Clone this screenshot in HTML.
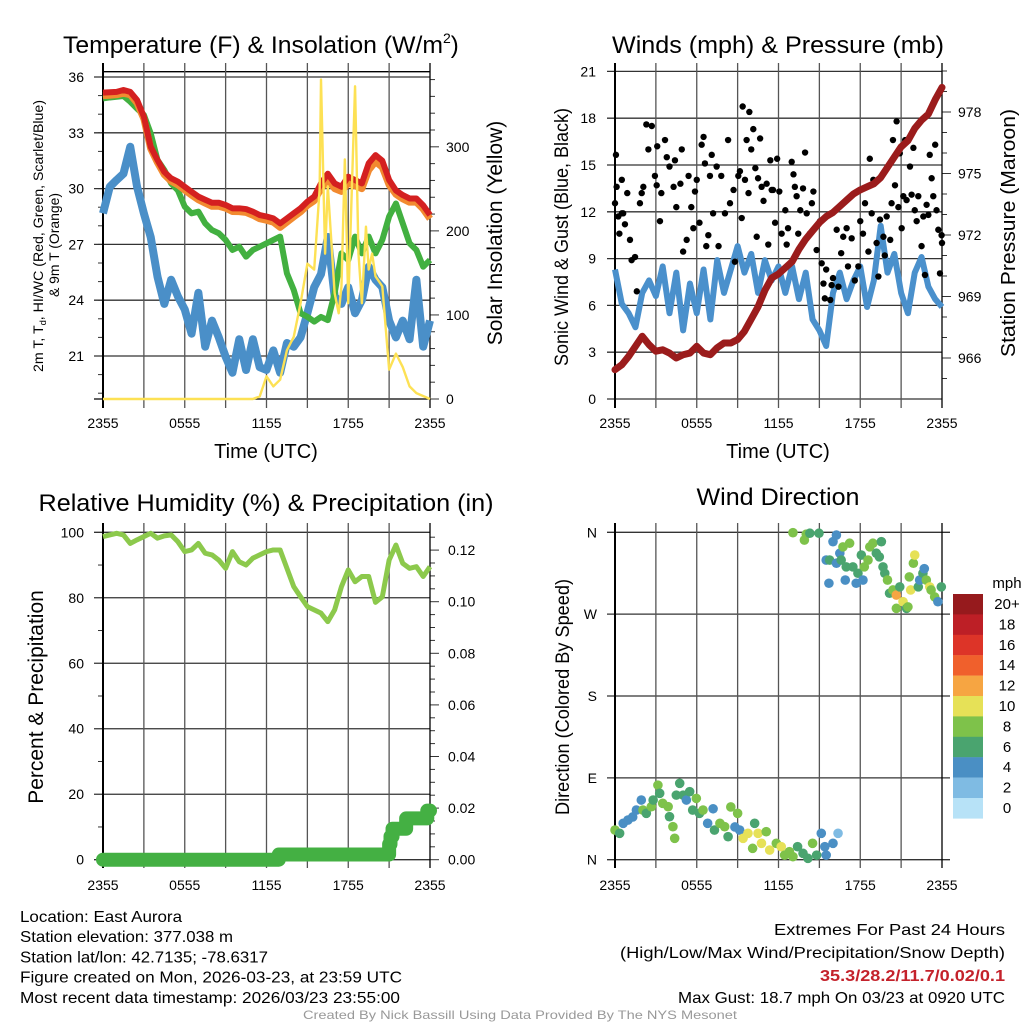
<!DOCTYPE html>
<html><head><meta charset="utf-8"><style>
html,body{margin:0;padding:0;background:#fff}
svg{display:block;font-family:"Liberation Sans",sans-serif}
</style></head><body>
<svg id="root" width="1024" height="1024" viewBox="0 0 1024 1024" xmlns="http://www.w3.org/2000/svg">
<rect x="0" y="0" width="1024" height="1024" fill="#fff"/>
</svg>
<script>
// ---------- data ----------
const hours = [0,0.5,1,1.5,2,2.5,3,3.5,4,4.5,5,5.5,6,6.5,7,7.5,8,8.5,9,9.5,10,10.5,11,11.5,12,12.5,13,13.5,14,14.5,15,15.5,16,16.5,17,17.5,18,18.5,19,19.5,20,20.5,21,21.5,22,22.5,23,23.5,24];
const tempRed = [35.16,35.18,35.2,35.3,35.2,34.76,33.87,32.25,31.54,30.9,30.55,30.37,30.1,29.83,29.57,29.4,29.24,29.24,29.12,28.94,28.94,28.9,28.76,28.58,28.5,28.4,28.13,28.4,28.67,28.94,29.3,29.57,30.28,30.8,30.28,30.1,30.64,30.46,30.28,31.36,31.8,31.5,30.46,29.9,29.65,29.47,29.47,29.1,28.58];
const temp9mOrange = [35.0,35.02,35.05,35.12,35.05,34.6,33.75,32.15,31.4,30.75,30.4,30.2,29.92,29.65,29.4,29.22,29.05,29.05,28.95,28.77,28.76,28.72,28.57,28.38,28.3,28.2,27.92,28.2,28.48,28.75,29.1,29.35,30.0,30.45,30.0,29.85,30.3,30.15,30.0,31.0,31.45,31.15,30.2,29.7,29.45,29.27,29.27,28.9,28.38];
const windChillGreen = [34.85,34.9,34.94,34.98,34.67,34.3,33.96,32.97,31.54,31.0,30.28,29.9,29.03,28.67,28.76,28.13,27.77,27.6,27.24,26.7,26.88,26.34,26.7,26.88,27.06,27.24,27.42,25.44,24.55,23.3,23.11,22.85,23.1,22.93,24.37,26.52,26.16,27.42,26.52,27.42,26.52,27.24,28.5,29.2,28.13,27.06,26.7,25.8,26.16];
const dewpointBlue = [28.67,30.1,30.46,30.8,32.25,30.1,28.67,27.4,25.26,23.8,25.1,24.2,23.5,22.2,24.4,21.5,22.9,22.0,20.96,20.1,21.9,20.25,21.9,20.4,20.25,21.3,20.1,21.7,21.5,22.0,23.3,24.7,25.4,27.4,24.2,23.8,24.7,23.3,24.0,25.8,25.1,24.7,22.9,22.0,22.9,21.9,25.1,21.5,22.9];
const solarHours = [0,11,11.5,12,12.5,13,13.5,14,14.5,15,15.5,15.9,16,16.3,16.5,17,17.3,17.5,17.75,18,18.5,18.75,19,19.3,19.5,19.75,20,20.5,21,21.5,22,22.5,23,24];
const solarW = [0,0,3,27,15,23,58,74,114,161,154,250,380,173,253,126,102,134,285,114,372,173,114,205,154,173,146,134,35,54,38,15,7,0];
const windBlue = [8.3,6.1,5.5,4.6,6.8,7.6,6.6,8.5,5.5,8.1,4.4,7.4,5.5,8.3,5.1,8.9,6.8,8.3,9.8,8.1,9.3,6.8,8.9,7.6,8.5,6.8,8.5,6.4,8.1,5.1,4.4,3.4,6.8,8.1,6.4,7.6,8.5,5.9,7.6,11.1,8.1,9.3,6.8,5.5,8.1,9.1,7.2,6.4,5.9];
const pressureMb = [965.43,965.67,966.08,966.57,967.06,966.65,966.33,966.4,966.24,966.0,966.16,966.24,966.57,966.24,966.16,966.5,966.73,966.73,966.9,967.3,967.9,968.5,969.3,969.9,970.1,970.4,970.7,971.3,971.8,972.2,972.6,972.9,973.1,973.4,973.7,974.0,974.2,974.35,974.5,974.8,975.3,975.8,976.3,976.6,977.2,977.6,977.9,978.6,979.2];
const gustHours = [0,0.07,0.12,0.24,0.32,0.5,0.6,0.73,0.9,0.5,1.1,1.22,1.47,1.6,1.83,1.96,2.08,2.3,2.45,2.7,2.93,3.06,3.1,3.3,3.4,3.67,3.8,4.0,4.3,4.4,4.5,4.8,4.9,5.0,5.26,5.4,5.6,5.75,5.87,6.0,6.2,6.36,6.5,6.6,6.7,6.85,6.97,7.1,7.2,7.46,7.6,7.8,8.07,8.3,8.44,8.7,8.8,9.05,9.17,9.3,9.37,9.54,9.66,9.8,9.86,10.0,10.15,10.3,10.4,10.5,10.65,10.76,10.9,11.13,11.25,11.4,11.5,11.6,11.75,11.9,12.06,12.23,12.5,12.6,12.7,12.97,13.1,13.2,13.33,13.45,13.6,13.8,13.95,14.07,14.3,14.45,14.56,14.8,15.05,15.17,15.3,15.4,15.5,15.8,15.9,16.0,16.27,16.4,16.6,16.75,17.0,17.1,17.37,17.6,17.86,18.0,18.2,18.35,18.6,18.7,18.84,18.96,19.2,19.33,19.45,19.7,19.8,19.94,20.2,20.3,20.4,20.55,20.67,20.8,20.9,21.04,21.16,21.3,21.4,21.65,21.77,21.9,22.0,22.14,22.26,22.5,22.63,22.75,22.87,23.0,23.1,23.24,23.36,23.5,23.6,23.73,23.85,23.97,24.0];
const gustMph = [12.55,15.65,13.6,11.7,10.6,11.9,11.9,11.2,13.2,14.05,10.2,8.9,9.1,6.9,12.55,13.2,13.6,17.6,16.0,17.5,14.3,13.7,16.2,11.4,13.2,16.6,15.5,14.9,13.6,15.3,12.3,13.8,16.0,9.45,10.2,14.3,12.3,10.95,13.3,14.05,11.3,16.3,16.8,15.1,9.8,10.5,14.3,15.65,11.9,14.9,9.8,14.3,11.9,16.6,12.55,13.4,8.8,14.3,14.6,11.6,18.75,14.05,16.6,13.2,18.4,16.0,17.3,14.8,10.4,14.15,16.7,13.6,12.7,13.8,9.9,15.3,13.4,13.4,11.3,15.4,13.3,10.6,12.1,9.9,10.95,15.2,14.4,13.6,13.0,10.6,12.1,13.5,15.8,11.9,10.6,12.55,13.3,9.55,11.4,8.7,7.4,6.45,8.3,6.35,7.3,7.75,10.85,7.2,9.35,10.4,10.95,8.5,10.3,7.6,8.5,11.4,10.6,12.55,9.45,15.4,11.9,14.05,10.0,7.85,11.5,10.4,9.2,11.7,10.2,12.55,16.6,13.7,17.8,12.3,15.75,10.95,13.0,16.6,12.75,14.9,13.1,16.1,12.1,11.4,13.0,9.8,11.7,7.95,12.45,11.8,15.65,14.15,13.0,16.3,12.1,10.85,8.05,10.5,10.0];
const rhPct = [98.7,99.2,99.7,99.2,96.6,97.7,98.7,99.7,98.2,98.9,99.2,97.1,94.1,94.6,96.6,93.6,93.1,91.5,89.0,94.1,91.0,90.0,92.1,93.1,94.1,94.6,94.6,89.0,83.4,80.3,77.3,76.3,75.3,72.7,76.3,83.4,88.5,84.9,86.5,86.5,78.6,80.3,91.5,96.1,90.5,89.0,89.5,86.5,89.5];
const precipHours = [0,12.75,12.9,20.8,21.0,21.1,21.25,22.0,22.25,23.6,23.8,24];
const precipIn = [0,0,0.002,0.002,0.006,0.009,0.012,0.012,0.016,0.016,0.019,0.019];
const dirHours = [0,0.34,0.6,0.95,1.3,1.57,1.93,2.05,2.3,2.67,2.8,3.15,3.28,3.5,3.9,4.0,4.25,4.38,4.5,4.75,5.0,5.24,5.48,5.7,5.97,6.2,6.46,6.8,7.2,7.3,7.7,8.05,8.3,8.5,8.8,9.0,9.15,9.4,9.76,10.1,10.25,10.5,10.75,11.1,11.35,11.84,12.2,12.45,12.8,13.06,13.4,13.8,14.16,14.5,14.8,15.14,15.4,15.5,16.0,16.37,13.06,13.9,14.04,14.3,14.97,15.5,15.75,15.7,16.0,16.25,16.25,16.5,16.6,16.73,16.9,16.97,17.22,17.46,17.7,17.83,18.08,18.2,18.3,18.57,18.7,18.93,19.18,19.4,19.55,19.67,19.8,20.0,20.15,20.4,20.65,20.65,20.9,21.14,21.4,21.5,21.6,21.7,21.9,22.0,22.26,22.36,22.6,22.7,22.85,23.1,23.2,23.46,23.7,23.95];
const dirDeg = [32.6,29,40,43.6,47,54.6,65.6,54.6,51,58.3,65.6,82,73,62,58.3,47.3,36.3,23.5,71,84,71,65.6,74.8,54.6,67.4,51,54.6,40,56,32.6,40,36.3,25.3,58,36,51,32.6,23.5,29,12.5,40,29,18,30.8,10.6,18,14.3,5,8.8,3.3,14.3,7,1.5,18,5,29,14.3,5,18,29,359.6,351.5,358,359,359,329.5,329.5,304,349.7,357,326,337,329.5,344,307.5,322,348,322,304,315,335,307.5,322,329.5,344,348,337,333,349.7,322,315,307.5,293,296.6,291,276.4,300,283.7,276.4,278,311,296.6,326,335,300,307.5,315,320,307.5,300,296.6,289,283.7,300];
const dirSpeed = [9,7,5,5,5,5,5,9,7,9,7,9,7,9,9,7,9,9,7,7,7,5,7,7,9,7,9,5,5,7,9,9,7,9,5,9,5,11,11,9,7,11,11,9,11,9,11,9,9,9,7,7,7,9,7,5,5,5,5,3,9,9,9,7,7,5,7,5,5,5,5,5,7,9,5,7,9,7,5,7,7,5,9,9,9,9,7,7,7,7,7,9,7,9,13,9,7,11,7,9,9,11,9,11,7,5,7,5,9,11,9,9,5,7];
const tempTicks = [36,33,30,27,24,21];
const solarTicks = [0,100,200,300];
const windTicks = [0,3,6,9,12,15,18,21];
const pressTicks = [966,969,972,975,978];
const rhTicks = [0,20,40,60,80,100];
const precipTicks = [0,0.02,0.04,0.06,0.08,0.10,0.12];
const precipTickLabels = ["0.00","0.02","0.04","0.06","0.08","0.10","0.12"];
const dirTicks = [0,90,180,270,360];
const dirTickLabels = ["N","E","S","W","N"];
const timeTickHours = [0,6,12,18,24];
const timeTickLabels = ["2355","0555","1155","1755","2355"];
const speedBins = [20,18,16,14,12,10,8,6,4,2,0];
const speedBinLabels = ["20+","18","16","14","12","10","8","6","4","2","0"];
const speedColors = {0:"#b7e2f7",2:"#7fbbe3",4:"#4a8fc4",6:"#4aa46f",8:"#7ec24a",10:"#e6e157",12:"#f6a542",14:"#f0602c",16:"#dd3428",18:"#bd1f26",20:"#961a1d"};

// ---------- helpers ----------
const NS="http://www.w3.org/2000/svg";
const root=document.getElementById("root");
function add(p,tag,a){const e=document.createElementNS(NS,tag);for(const k in a)e.setAttribute(k,a[k]);p.appendChild(e);return e;}
function text(p,x,y,s,a){const e=add(p,"text",Object.assign({x:x,y:y},a||{}));e.textContent=s;return e;}
function pathD(xs,ys,fx,fy){let d="";for(let i=0;i<xs.length;i++){d+=(i?"L":"M")+fx(xs[i]).toFixed(2)+","+fy(ys[i]).toFixed(2);}return d;}
function stepD(xs,ys,fx,fy){let d="M"+fx(xs[0])+","+fy(ys[0]);for(let i=1;i<xs.length;i++){d+="L"+fx(xs[i])+","+fy(ys[i-1])+"L"+fx(xs[i])+","+fy(ys[i]);}return d;}

const PX_H=13.625;
const x1=h=>103+h*PX_H;
const x2=h=>615+h*PX_H;
const yT=v=>77+(36-v)*18.6;
const yS=w=>399-w*0.8406;
const yW=v=>399-v*15.6;
const yP=p=>112+(978-p)*20.5;
const yR=r=>859.7-r*3.274;
const yPr=p=>859.7-p*2580;
const yD=d=>859.7-d*0.9094;

function vgrid(g,fx,top,bot){
  for(let h=0;h<=24;h+=3){
    const l=add(g,"line",{x1:fx(h),x2:fx(h),y1:top,y2:bot,stroke:(h===0||h===24)?"#000":"#555","stroke-width":(h===0)?2:1.3});
    
    
  }
}
function timeLabels(g,fx,y){
  for(let i=0;i<timeTickHours.length;i++){
    const t=text(g,fx(timeTickHours[i]),y,timeTickLabels[i],{"font-size":14,"text-anchor":"middle"});
    
    
  }
}

// ================= Panel 1 =================
const p1=add(root,"g",{});


const t1=text(p1,266,53,"Temperature (F) & Insolation (W/m",{"font-size":24,"text-anchor":"end",x:443,textLength:380,lengthAdjust:"spacingAndGlyphs"});


const t1b=text(p1,443,53,"",{"font-size":24});


const sup=add(t1b,"tspan",{"font-size":14,dy:-10});sup.textContent="2";
const sup2=add(t1b,"tspan",{"font-size":24,dy:10});sup2.textContent=")";
add(p1,"line",{x1:103,x2:430,y1:71.7,y2:71.7,stroke:"#000","stroke-width":1.3});
for(const v of tempTicks){
  const l=add(p1,"line",{x1:94,x2:430,y1:yT(v),y2:yT(v),stroke:"#333","stroke-width":1.3});
  
  
  const t=text(p1,84,yT(v)+5,String(v),{"font-size":14,"text-anchor":"end"});
  
  
}
for(let v=19;v<=36;v++){const l=add(p1,"line",{x1:98,x2:103,y1:yT(v),y2:yT(v),stroke:"#333","stroke-width":1});}
for(let w=0;w<=380;w+=20){const l=add(p1,"line",{x1:430,x2:(w%100===0)?439:435,y1:yS(w),y2:yS(w),stroke:"#333","stroke-width":1});}
for(const w of solarTicks){const t=text(p1,446,yS(w)+5,String(w),{"font-size":14});}
add(p1,"line",{x1:94,x2:430,y1:399,y2:399,stroke:"#000","stroke-width":1.3});
vgrid(p1,x1,63,408);
timeLabels(p1,x1,428);
const xl1=text(p1,266,458,"Time (UTC)",{"font-size":20,"text-anchor":"middle"});


const yl1a=text(p1,0,0,"2m T, T",{"font-size":14,"text-anchor":"middle",transform:"translate(43,236) rotate(-90)",textLength:272,lengthAdjust:"spacingAndGlyphs"});


const sb=add(yl1a,"tspan",{"font-size":9,dy:3});sb.textContent="d";
const sb2=add(yl1a,"tspan",{"font-size":14,dy:-3});sb2.textContent=", HI/WC (Red, Green, Scarlet/Blue)";
const yl1b=text(p1,0,0,"& 9m T (Orange)",{"font-size":14,"text-anchor":"middle",transform:"translate(59,245) rotate(-90)",textLength:104,lengthAdjust:"spacingAndGlyphs"});


const yr1=text(p1,0,0,"Solar Insolation (Yellow)",{"font-size":21,"text-anchor":"middle",transform:"translate(502,233) rotate(-90)"});


const sBlue=add(p1,"path",{d:pathD(hours,dewpointBlue,x1,yT),fill:"none",stroke:"#4a8fc8","stroke-width":8,"stroke-linejoin":"round"});


const sGreen=add(p1,"path",{d:pathD(hours,windChillGreen,x1,yT),fill:"none",stroke:"#42b040","stroke-width":6,"stroke-linejoin":"round"});


const sOr=add(p1,"path",{d:pathD(hours,temp9mOrange,x1,yT),fill:"none",stroke:"#f28a30","stroke-width":7,"stroke-linejoin":"round"});


const sRed=add(p1,"path",{d:pathD(hours,tempRed,x1,yT),fill:"none",stroke:"#d42020","stroke-width":6,"stroke-linejoin":"round"});


const sY=add(p1,"path",{d:pathD(solarHours,solarW,x1,yS),fill:"none",stroke:"#fde154","stroke-width":2.4,"stroke-linejoin":"round"});



// ================= Panel 2 =================
const p2=add(root,"g",{});


const t2=text(p2,778,53,"Winds (mph) & Pressure (mb)",{"font-size":24,"text-anchor":"middle",textLength:332,lengthAdjust:"spacingAndGlyphs"});


for(const v of windTicks){
  const l=add(p2,"line",{x1:607,x2:942,y1:yW(v),y2:yW(v),stroke:"#333","stroke-width":1.3});
  
  
  const t=text(p2,596,yW(v)+5,String(v),{"font-size":14,"text-anchor":"end"});
  
  
}
for(let p=965;p<=980;p++){const l=add(p2,"line",{x1:942,x2:((p-966)%3===0)?951:947,y1:yP(p),y2:yP(p),stroke:"#333","stroke-width":1});}
for(const p of pressTicks){const t=text(p2,958,yP(p)+5,String(p),{"font-size":14});}
vgrid(p2,x2,63,408);
timeLabels(p2,x2,428);
const xl2=text(p2,778,458,"Time (UTC)",{"font-size":20,"text-anchor":"middle"});


const yl2=text(p2,0,0,"Sonic Wind & Gust (Blue, Black)",{"font-size":19,"text-anchor":"middle",transform:"translate(568,237) rotate(-90)",textLength:258,lengthAdjust:"spacingAndGlyphs"});


const yr2=text(p2,0,0,"Station Pressure (Maroon)",{"font-size":20,"text-anchor":"middle",transform:"translate(1015,233) rotate(-90)",textLength:248,lengthAdjust:"spacingAndGlyphs"});


const wl=add(p2,"path",{d:pathD(hours,windBlue,x2,yW),fill:"none",stroke:"#4a90cc","stroke-width":6,"stroke-linejoin":"round"});


for(let i=0;i<gustHours.length;i++){
  const c=add(p2,"circle",{cx:x2(gustHours[i]),cy:yW(gustMph[i]),r:3.2,fill:"#000"});
  
  
}
const pl=add(p2,"path",{d:pathD(hours,pressureMb,x2,yP),fill:"none",stroke:"#9b1c1c","stroke-width":7,"stroke-linejoin":"round","stroke-linecap":"round"});



// ================= Panel 3 =================
const p3=add(root,"g",{});


const t3=text(p3,266,511,"Relative Humidity (%) & Precipitation (in)",{"font-size":24,"text-anchor":"middle",textLength:455,lengthAdjust:"spacingAndGlyphs"});


for(const v of rhTicks){
  const l=add(p3,"line",{x1:94,x2:430,y1:yR(v),y2:yR(v),stroke:"#333","stroke-width":1.3});
  
  
  const t=text(p3,84,yR(v)+5,String(v),{"font-size":14,"text-anchor":"end"});
  
  
}
for(let v=10;v<100;v+=20){const l=add(p3,"line",{x1:98,x2:103,y1:yR(v),y2:yR(v),stroke:"#333","stroke-width":1});}
for(let k=0;k<=25;k++){const p=k*0.005;const l=add(p3,"line",{x1:430,x2:(k%4===0)?439:435,y1:yPr(p),y2:yPr(p),stroke:"#333","stroke-width":1});}
for(let i=0;i<precipTicks.length;i++){const t=text(p3,448,yPr(precipTicks[i])+5,precipTickLabels[i],{"font-size":14});}
vgrid(p3,x1,523,868);
timeLabels(p3,x1,890);
const yl3=text(p3,0,0,"Percent & Precipitation",{"font-size":21,"text-anchor":"middle",transform:"translate(43,697) rotate(-90)"});


const rl=add(p3,"path",{d:pathD(hours,rhPct,x1,yR),fill:"none",stroke:"#8cc94c","stroke-width":5,"stroke-linejoin":"round"});


const prl=add(p3,"path",{d:stepD(precipHours,precipIn,x1,yPr),fill:"none",stroke:"#44b043","stroke-width":14,"stroke-linejoin":"round","stroke-linecap":"round"});



// ================= Panel 4 =================
const p4=add(root,"g",{});


const t4=text(p4,778,505,"Wind Direction",{"font-size":24,"text-anchor":"middle",textLength:163,lengthAdjust:"spacingAndGlyphs"});


for(let i=0;i<dirTicks.length;i++){
  const l=add(p4,"line",{x1:607,x2:950,y1:yD(dirTicks[i]),y2:yD(dirTicks[i]),stroke:"#333","stroke-width":1.3});
  
  
  const t=text(p4,597,yD(dirTicks[i])+5,dirTickLabels[i],{"font-size":14,"text-anchor":"end"});
  
  
}
vgrid(p4,x2,523,868);
timeLabels(p4,x2,890);
const yl4=text(p4,0,0,"Direction (Colored By Speed)",{"font-size":19,"text-anchor":"middle",transform:"translate(569,697) rotate(-90)",textLength:236,lengthAdjust:"spacingAndGlyphs"});


for(let i=0;i<dirHours.length;i++){
  const bin=Math.min(20,Math.floor(dirSpeed[i]/2)*2);
  const c=add(p4,"circle",{cx:x2(dirHours[i]),cy:yD(dirDeg[i]),r:4.8,fill:speedColors[bin]});
  
  
}
const cb=add(p4,"g",{});


const mph=text(cb,1007,588,"mph",{"font-size":15,"text-anchor":"middle"});


for(let i=0;i<speedBins.length;i++){
  const r=add(cb,"rect",{x:953,y:594+i*20.4,width:30,height:20.6,fill:speedColors[speedBins[i]]});
  
  
  const t=text(cb,1007,594+i*20.4+15,speedBinLabels[i],{"font-size":15,"text-anchor":"middle"});
  
  
}

// ================= Footer =================
const ft=add(root,"g",{});


const leftLines=[["Location: East Aurora",162],["Station elevation: 377.038 m",213],["Station lat/lon: 42.7135; -78.6317",248],["Figure created on Mon, 2026-03-23, at 23:59 UTC",382],["Most recent data timestamp: 2026/03/23 23:55:00",380]];
for(let i=0;i<leftLines.length;i++){
  const t=text(ft,20,922+i*20.2,leftLines[i][0],{"font-size":16,textLength:leftLines[i][1],lengthAdjust:"spacingAndGlyphs"});
  
  
}
const r1=text(ft,1005,935,"Extremes For Past 24 Hours",{"font-size":16,"text-anchor":"end",textLength:231,lengthAdjust:"spacingAndGlyphs"});


const r2=text(ft,1005,958,"(High/Low/Max Wind/Precipitation/Snow Depth)",{"font-size":16,"text-anchor":"end",textLength:385,lengthAdjust:"spacingAndGlyphs"});


const r3=text(ft,1005,981,"35.3/28.2/11.7/0.02/0.1",{"font-size":16,"font-weight":"bold",fill:"#c4222b","text-anchor":"end",textLength:185,lengthAdjust:"spacingAndGlyphs"});


const r4=text(ft,1005,1003,"Max Gust: 18.7 mph On 03/23 at 0920 UTC",{"font-size":16,"text-anchor":"end",textLength:327,lengthAdjust:"spacingAndGlyphs"});


const cr=text(ft,520,1019,"Created By Nick Bassill Using Data Provided By The NYS Mesonet",{"font-size":12,fill:"#999","text-anchor":"middle",textLength:434,lengthAdjust:"spacingAndGlyphs"});


</script>
</body></html>
